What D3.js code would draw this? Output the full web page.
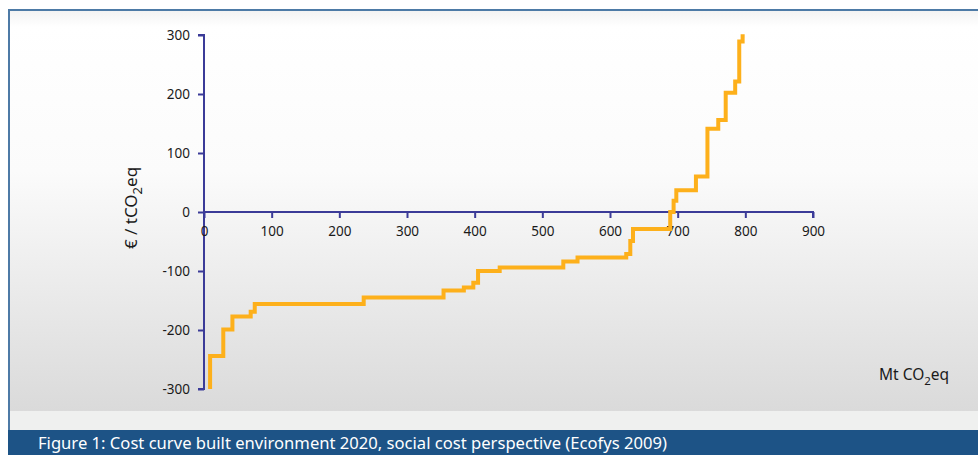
<!DOCTYPE html>
<html>
<head>
<meta charset="utf-8">
<script src="https://cdn.jsdelivr.net/npm/d3@7"></script>
<style>
  body { margin: 0; background: #fff; }
  svg { display: block; font-family: "Noto Sans", sans-serif; }
</style>
</head>
<body>
<svg width="978" height="455"></svg>
<script>
// cumulative abatement (Mt CO2eq) where each step starts, and its cost (EUR / tCO2eq)
var cumulativeMt = [9, 9, 28.5, 42, 69, 75, 236, 354, 384, 398, 405, 437, 531, 552, 624, 630, 634, 689, 694, 698, 727, 744, 760, 771, 785, 791, 796, 799];
var costEuro = [-300, -244, -199, -177, -169, -156, -145, -133, -128, -120, -100, -94, -84, -77, -71, -49, -29, 0, 19, 37, 60, 141, 156, 202, 221, 289, 298, 298];

var xTicks = [0, 100, 200, 300, 400, 500, 600, 700, 800, 900];
var yTicks = [-300, -200, -100, 0, 100, 200, 300];

var caption = "Figure 1: Cost curve built environment 2020, social cost perspective (Ecofys 2009)";

var svg = d3.select("svg"),
  width = +svg.attr("width"),
  height = +svg.attr("height");

var axisColor = "#3b3b98";

// background panel
var defs = svg.append("defs");
var grad = defs
  .append("linearGradient")
  .attr("id", "panelGrad")
  .attr("x1", 0)
  .attr("y1", 0)
  .attr("x2", 0)
  .attr("y2", 1);
grad.append("stop").attr("offset", "0").attr("stop-color", "#f3f3f3");
grad.append("stop").attr("offset", "0.04").attr("stop-color", "#ffffff");
grad.append("stop").attr("offset", "0.4").attr("stop-color", "#fbfbfb");
grad.append("stop").attr("offset", "1").attr("stop-color", "#dadada");

svg
  .append("rect")
  .attr("x", 9)
  .attr("y", 11)
  .attr("width", width - 9)
  .attr("height", 400)
  .attr("fill", "url(#panelGrad)");

svg
  .append("rect")
  .attr("x", 9)
  .attr("y", 411)
  .attr("width", width - 9)
  .attr("height", 19)
  .attr("fill", "#eff0ef");

// frame lines (top and left)
svg
  .append("line")
  .attr("x1", 8)
  .attr("x2", width)
  .attr("y1", 10)
  .attr("y2", 10)
  .attr("stroke", "#4d7aa6")
  .attr("stroke-width", 2);
svg
  .append("line")
  .attr("x1", 9)
  .attr("x2", 9)
  .attr("y1", 10)
  .attr("y2", 430)
  .attr("stroke", "#4d7aa6")
  .attr("stroke-width", 2);

// caption band
svg
  .append("rect")
  .attr("x", 8)
  .attr("y", 430)
  .attr("width", width - 8)
  .attr("height", height - 430)
  .attr("fill", "#1d5386");

svg
  .append("text")
  .attr("x", 38)
  .attr("y", 449)
  .attr("fill", "#ffffff")
  .attr("font-size", 16.5)
  .attr("textLength", 629)
  .attr("lengthAdjust", "spacingAndGlyphs")
  .text(caption);

// scales
var x = d3.scaleLinear().domain([0, 900]).range([204, 813]);
var y = d3.scaleLinear().domain([-300, 300]).range([389, 35]);

var fmt = function(d) {
  return String(d);
};

// y axis
var yAxis = svg
  .append("g")
  .attr("transform", "translate(" + x(0) + ",0)")
  .call(
    d3
      .axisLeft(y)
      .tickValues(yTicks)
      .tickSize(6)
      .tickPadding(8)
      .tickFormat(fmt)
  );

// x axis at zero cost
var xAxis = svg
  .append("g")
  .attr("transform", "translate(0," + y(0) + ")")
  .call(
    d3
      .axisBottom(x)
      .tickValues(xTicks)
      .tickSize(6)
      .tickPadding(8)
      .tickFormat(fmt)
  );

[yAxis, xAxis].forEach(function(g) {
  g.select(".domain")
    .attr("stroke", axisColor)
    .attr("stroke-width", 2);
  g.selectAll(".tick line")
    .attr("stroke", axisColor)
    .attr("stroke-width", 2);
  g.selectAll(".tick text")
    .attr("fill", "#1a1a1a")
    .attr("font-size", 13.5)
    .attr("font-family", "'Noto Sans', sans-serif");
});

xAxis.select(".domain").attr("d", "M" + x(0) + ",6V0H" + x(900) + "V6");
yAxis.select(".domain").attr("d", "M-6," + y(300) + "H0V" + y(-300) + "H-6");
yAxis.selectAll(".tick text").attr("x", -14);

// cost curve
var points = cumulativeMt.map(function(d, i) {
  return [d, costEuro[i]];
});

var line = d3
  .line()
  .x(function(d) {
    return x(d[0]);
  })
  .y(function(d) {
    return y(d[1]);
  })
  .curve(d3.curveStepAfter);

svg
  .append("path")
  .datum(points)
  .attr("fill", "none")
  .attr("stroke", "#fdb01b")
  .attr("stroke-width", 4)
  .attr("stroke-linejoin", "miter")
  .attr("d", line);

// axis titles
var yTitle = svg
  .append("text")
  .attr("transform", "translate(137,208) rotate(-90)")
  .attr("text-anchor", "middle")
  .attr("fill", "#1a1a1a")
  .attr("font-size", 17);
yTitle.append("tspan").text("€ / tCO");
yTitle
  .append("tspan")
  .attr("dy", 5)
  .attr("font-size", 13)
  .text("2");
yTitle
  .append("tspan")
  .attr("dy", -5)
  .text("eq");

var xTitle = svg
  .append("text")
  .attr("x", 879)
  .attr("y", 380)
  .attr("fill", "#1a1a1a")
  .attr("font-size", 15.5);
xTitle.append("tspan").text("Mt CO");
xTitle
  .append("tspan")
  .attr("dy", 5)
  .attr("font-size", 11.5)
  .text("2");
xTitle
  .append("tspan")
  .attr("dy", -5)
  .text("eq");
</script>
</body>
</html>
